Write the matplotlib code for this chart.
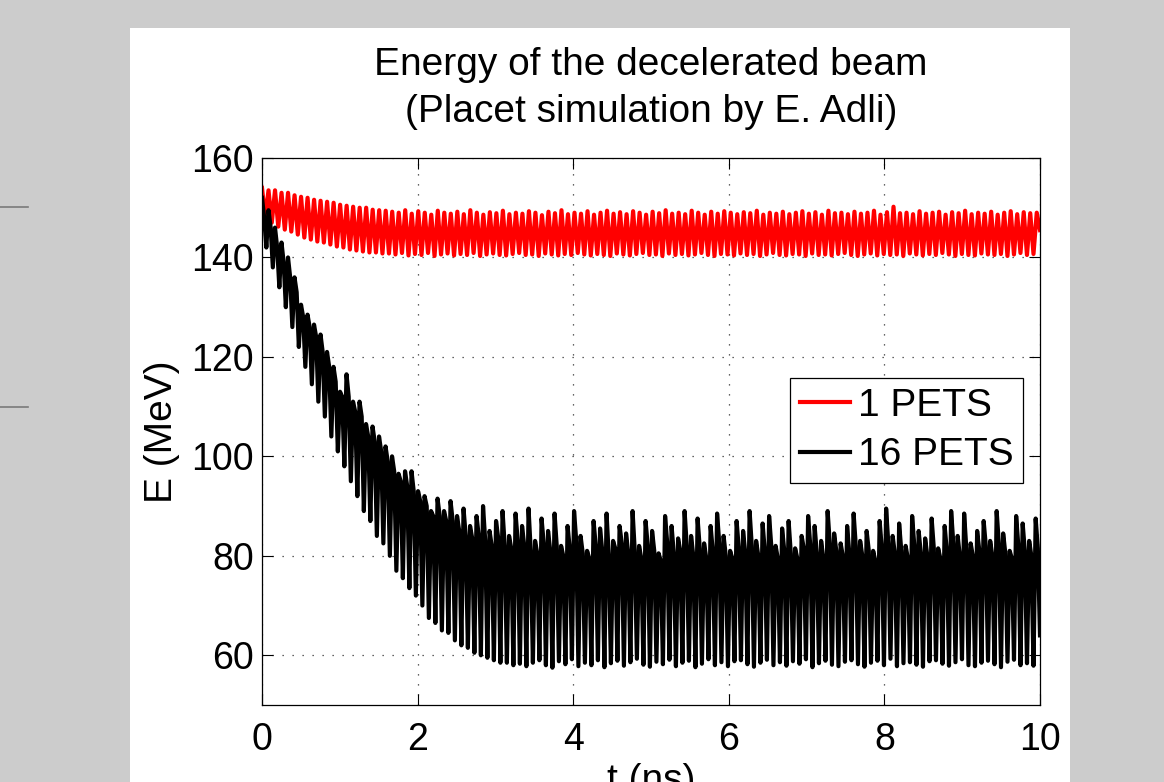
import numpy as np
import matplotlib
matplotlib.use('Agg')
import matplotlib.pyplot as plt
from matplotlib.patches import Rectangle
from matplotlib.lines import Line2D

plt.rcParams['font.family'] = ['Liberation Sans', 'DejaVu Sans']

# peaks / troughs of each oscillation cycle (MeV)
red_hi = [154.0, 153.5, 153.5, 153.0, 153.0, 152.5, 152.2, 152.0, 151.6, 151.4,
          151.2, 151.0, 150.6, 150.4, 150.2, 150.0, 150.0, 149.6, 149.5, 149.4,
          149.2, 149.0, 149.5, 148.8, 149.3, 149.0, 148.6, 149.4, 149.0, 148.8,
          149.2, 148.7, 149.5, 149.0, 148.6, 149.1, 148.9, 149.4, 148.7, 149.0,
          148.8, 149.3, 149.0, 148.5, 149.2, 148.9, 149.5, 148.7, 149.0, 148.8,
          149.3, 148.6, 149.0, 149.4, 148.8, 149.1, 148.7, 149.3, 149.0, 148.6,
          149.2, 148.9, 149.5, 148.8, 149.0, 148.7, 149.4, 149.0, 148.6, 149.2,
          148.8, 149.3, 149.0, 148.7, 149.1, 148.9, 149.4, 148.6, 149.0, 148.8,
          149.2, 148.7, 149.0, 149.3, 148.8, 149.1, 148.6, 149.4, 148.9, 149.0,
          148.7, 149.2, 148.8, 149.0, 149.4, 148.6, 149.1, 150.2, 148.9, 149.0,
          148.7, 149.3, 148.8, 149.0, 149.2, 148.6, 149.1, 148.9, 149.4, 148.7,
          149.0, 148.8, 149.2, 148.6, 149.0, 149.3, 148.7, 149.1, 148.9, 149.0]
red_lo = [148.0, 147.0, 146.2, 145.6, 145.2, 144.6, 144.0, 143.6, 143.2, 143.0,
          142.6, 142.2, 142.0, 141.6, 141.4, 141.2, 141.0, 141.0, 140.8, 140.8,
          140.6, 140.9, 140.4, 140.7, 140.5, 140.9, 140.3, 140.6, 140.8, 140.4,
          140.7, 140.5, 140.9, 140.3, 140.6, 140.8, 140.5, 140.4, 140.7, 140.9,
          140.5, 140.6, 140.3, 140.8, 140.6, 140.4, 140.7, 140.5, 140.9, 140.6,
          140.4, 140.7, 140.5, 140.3, 140.8, 140.6, 140.4, 140.7, 140.9, 140.5,
          140.6, 140.3, 140.8, 140.5, 140.7, 140.4, 140.6, 140.9, 140.5, 140.3,
          140.7, 140.6, 140.4, 140.8, 140.5, 140.7, 140.3, 140.6, 140.9, 140.5,
          140.4, 140.7, 140.6, 140.3, 140.8, 140.5, 140.6, 140.4, 140.7, 140.9,
          140.5, 140.3, 140.6, 140.8, 140.4, 140.7, 140.5, 140.6, 140.3, 140.8,
          140.6, 140.4, 140.7, 140.5, 140.9, 140.6, 140.3, 140.7, 140.5, 140.4,
          140.8, 140.6, 140.5, 140.7, 140.3, 140.6, 140.9, 140.5, 140.7, 145.5]

# 16 PETS: peak, shoulder after the peak, trough of each cycle
black_hi = [152.0, 149.5, 146.0, 143.0, 140.0, 136.0, 130.5, 128.5, 126.5, 124.5,
            121.0, 118.0, 113.0, 116.5, 111.0, 111.0, 106.5, 106.0, 104.0, 102.0,
            100.0, 96.5, 97.0, 97.0, 93.0, 92.0, 89.0, 91.5, 89.0, 91.0,
            88.0, 89.5, 86.0, 88.0, 90.0, 85.0, 87.0, 89.0, 84.0, 88.5,
            86.0, 89.5, 83.0, 87.5, 85.0, 88.5, 82.0, 86.0, 89.0, 84.0,
            81.0, 87.0, 85.5, 88.5, 83.0, 86.0, 84.5, 89.0, 82.0, 87.0,
            85.0, 80.5, 88.0, 86.0, 83.5, 89.0, 84.0, 87.5, 82.5, 86.0,
            88.5, 84.0, 81.0, 87.0, 85.0, 89.0, 83.0, 86.5, 88.0, 82.0,
            85.5, 87.0, 81.5, 84.0, 88.0, 86.0, 83.0, 89.0, 84.5, 82.5,
            86.0, 88.5, 83.0, 85.0, 81.0, 87.0, 89.5, 84.0, 86.5, 82.0,
            88.0, 85.0, 83.5, 87.5, 81.5, 86.0, 89.0, 84.0, 88.5, 82.5,
            85.0, 87.0, 83.0, 89.0, 84.5, 81.0, 88.0, 86.5, 83.0, 87.5]
black_mid = [148.0, 146.0, 142.0, 139.0, 136.0, 133.0, 128.0, 126.0, 124.0, 121.0,
             118.0, 115.0, 112.0, 112.0, 109.0, 108.0, 104.0, 103.0, 101.0, 99.0,
             97.0, 95.0, 94.0, 93.0, 91.0, 90.0, 88.0, 88.0, 87.0, 87.0,
             85.0, 84.0, 83.5, 84.0, 83.0, 82.0, 83.5, 82.0, 81.5, 83.0,
             82.0, 81.0, 80.5, 82.5, 81.0, 82.0, 80.0, 81.5, 83.0, 80.5,
             79.5, 82.0, 81.0, 80.0, 81.5, 82.5, 80.5, 81.0, 79.5, 82.0,
             81.0, 79.0, 82.5, 80.5, 81.0, 82.0, 80.0, 81.5, 79.5, 81.0,
             82.5, 80.0, 79.5, 81.5, 80.5, 82.0, 80.0, 81.0, 82.0, 79.5,
             81.0, 80.5, 79.5, 81.5, 82.0, 80.5, 79.5, 82.5, 81.0, 80.0,
             80.5, 82.0, 80.0, 81.0, 79.0, 81.5, 82.5, 80.5, 81.0, 79.5,
             82.0, 80.5, 80.0, 81.5, 79.5, 81.0, 82.5, 80.0, 81.5, 80.0,
             81.0, 82.0, 80.0, 82.5, 80.5, 79.5, 82.0, 81.0, 80.0, 81.5]
black_lo = [142.0, 138.0, 134.0, 130.0, 126.0, 122.0, 118.0, 114.5, 111.0, 108.0,
            104.0, 101.0, 98.0, 95.0, 92.0, 89.0, 87.0, 84.0, 82.5, 80.0,
            77.0, 75.5, 73.5, 72.0, 70.0, 67.5, 66.5, 65.0, 64.5, 63.0,
            62.0, 61.5, 60.5, 60.0, 59.5, 59.0, 58.5, 58.5, 58.0, 58.3,
            57.8, 58.5, 59.0, 58.0, 57.5, 58.8, 58.2, 59.2, 57.8, 58.5,
            58.0, 59.0, 57.6, 58.4, 58.9, 57.9, 58.6, 59.3, 58.1, 57.7,
            58.7, 58.2, 59.1, 57.8, 58.5, 58.9, 57.6, 58.3, 59.2, 58.0,
            58.6, 57.8, 58.8, 59.0, 58.2, 57.7, 58.5, 59.1, 58.0, 58.6,
            57.9, 58.8, 58.3, 59.2, 57.6, 58.4, 58.9, 58.1, 57.8, 58.7,
            59.0, 58.2, 57.7, 58.5, 58.9, 58.0, 59.3, 57.8, 58.4, 58.6,
            58.1, 57.7, 58.8, 59.0, 58.3, 57.9, 58.6, 59.2, 58.0, 57.8,
            58.5, 58.9, 58.2, 57.6, 58.7, 59.1, 58.0, 58.4, 57.9, 64.0]

t_start, t_end = 0.0, 10.0
yticks = [60, 80, 100, 120, 140, 160]
xticks = [0, 2, 4, 6, 8, 10]


def interleave(*cols):
    return np.column_stack(cols).ravel()


red = interleave(red_hi, red_lo)
black = interleave(black_hi, black_mid, black_lo)
t_red = np.linspace(t_start, t_end, len(red))
t_black = np.linspace(t_start, t_end, len(black))

fig = plt.figure(figsize=(11.64, 7.82), dpi=100)
fig.patch.set_facecolor('#cccccc')
# white page behind the axes
fig.add_artist(Rectangle((130 / 1164., 0), 940 / 1164., 1 - 28 / 782.,
                         transform=fig.transFigure, facecolor='white',
                         edgecolor='none', zorder=-10))
for yy in [207, 407]:
    fig.add_artist(Line2D([0, 28 / 1164.], [1 - yy / 782.] * 2, color='#7a7a7a',
                          lw=1.2, transform=fig.transFigure))

ax = fig.add_axes([262 / 1164., 1 - 705 / 782., 778 / 1164., 547 / 782.])
ax.set_zorder(5)
ax.plot(t_red, red, color='red', lw=3.0, label='1 PETS')
ax.plot(t_black, black, color='black', lw=3.0, label='16 PETS')

ax.set_xlim(0, 10)
ax.set_ylim(50, 160)
ax.set_xticks(xticks)
ax.set_yticks(yticks)
ax.grid(True, color='#333333', linestyle=(0, (1, 7)), lw=0.9)
ax.tick_params(direction='in', length=8, width=0.8, top=True, right=True,
               labelsize=27)
ax.tick_params(axis='y', pad=6)
ax.tick_params(axis='x', pad=12)
for s in ax.spines.values():
    s.set_linewidth(0.9)

ax.set_title('Energy of the decelerated beam\n(Placet simulation by E. Adli)',
             fontsize=28, linespacing=1.38, pad=26)
ax.set_xlabel('t (ns)', fontsize=28, labelpad=4)
ax.set_ylabel('E (MeV)', fontsize=28, labelpad=8)

leg = ax.legend(loc='upper left', bbox_to_anchor=(0.6787, 0.598),
                borderaxespad=0, fancybox=False, edgecolor='black',
                fontsize=28, handlelength=1.3, handletextpad=0.2,
                borderpad=0.25, labelspacing=0.35, framealpha=1)
leg.get_frame().set_linewidth(0.9)
for h in leg.get_lines():
    h.set_linewidth(3.0)

fig.savefig('out.png', dpi=100, facecolor=fig.get_facecolor())
